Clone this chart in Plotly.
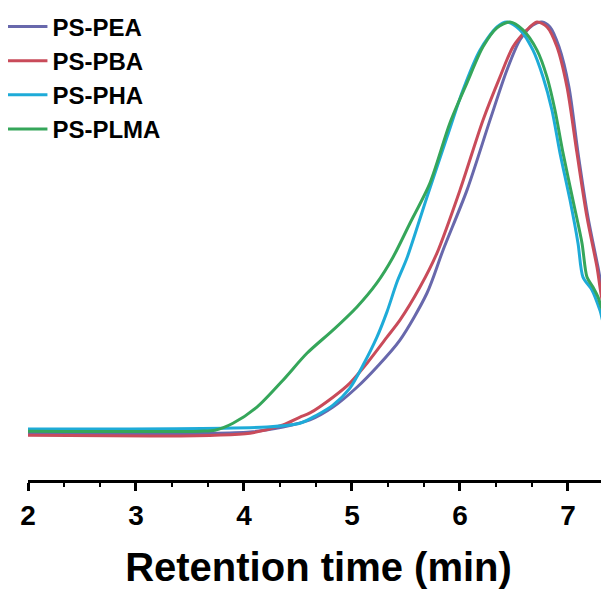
import plotly.graph_objects as go

# Retention time (min) and normalized detector response
t_pea = [2.0, 4.056, 4.361, 4.611, 4.824, 5.046, 5.231, 5.444, 5.694, 5.843, 6.065, 6.278,
         6.435, 6.556, 6.676, 6.759, 6.833, 6.917, 7.009, 7.093, 7.185, 7.278, 7.343, 7.370]
v_pea = [0.007, 0.010, 0.022, 0.039, 0.070, 0.118, 0.167, 0.232, 0.345, 0.449, 0.594, 0.763,
         0.884, 0.957, 0.993, 1.000, 0.988, 0.940, 0.843, 0.684, 0.529, 0.408, 0.321, 0.309]

t_pba = [2.0, 3.130, 3.731, 4.056, 4.361, 4.519, 4.611, 4.824, 4.981, 5.139, 5.324, 5.444,
         5.630, 5.787, 6.000, 6.213, 6.370, 6.491, 6.620, 6.713, 6.806, 6.898, 6.991, 7.083,
         7.176, 7.269, 7.324, 7.361]
v_pba = [0.002, 0.000, 0.002, 0.007, 0.027, 0.046, 0.056, 0.094, 0.128, 0.176, 0.239, 0.280,
         0.360, 0.442, 0.594, 0.763, 0.867, 0.940, 0.981, 1.000, 0.988, 0.940, 0.843, 0.684,
         0.529, 0.408, 0.321, 0.304]

t_pha = [2.0, 4.213, 4.519, 4.676, 4.824, 4.981, 5.102, 5.231, 5.324, 5.417, 5.509, 5.694,
         5.880, 6.028, 6.185, 6.343, 6.435, 6.556, 6.676, 6.769, 6.852, 6.926, 7.019, 7.093,
         7.139, 7.222, 7.296, 7.343, 7.370]
v_pha = [0.017, 0.022, 0.031, 0.051, 0.075, 0.116, 0.171, 0.239, 0.300, 0.372, 0.430, 0.577,
         0.722, 0.836, 0.932, 0.988, 1.000, 0.981, 0.932, 0.867, 0.787, 0.684, 0.570, 0.466,
         0.384, 0.353, 0.304, 0.263, 0.263]

t_plma = [2.0, 3.593, 3.731, 3.898, 4.120, 4.361, 4.583, 4.824, 5.046, 5.231, 5.380, 5.537,
          5.722, 5.907, 6.065, 6.213, 6.343, 6.463, 6.583, 6.713, 6.806, 6.880, 6.954, 7.046,
          7.130, 7.176, 7.231, 7.278, 7.324, 7.361]
v_plma = [0.012, 0.012, 0.014, 0.031, 0.070, 0.135, 0.200, 0.256, 0.312, 0.370, 0.432, 0.514,
          0.611, 0.756, 0.853, 0.940, 0.986, 1.000, 0.981, 0.932, 0.867, 0.787, 0.684, 0.570,
          0.466, 0.384, 0.360, 0.336, 0.304, 0.304]

names = ["PS-PEA", "PS-PBA", "PS-PHA", "PS-PLMA"]
colors = ["#6868AC", "#C94B5A", "#1EABD8", "#35A65A"]
series = [(t_pea, v_pea), (t_pba, v_pba), (t_pha, v_pha), (t_plma, v_plma)]

fig = go.Figure()
for (t, v), name, col in zip(series, names, colors):
    fig.add_trace(go.Scatter(
        x=t, y=v, mode="lines", name="<b>" + name + "</b>",
        line=dict(color=col, width=3, shape="spline", smoothing=0.8),
    ))

fig.update_layout(
    width=601, height=581,
    margin=dict(l=20, r=0, t=2, b=109, autoexpand=False),
    paper_bgcolor="white", plot_bgcolor="white",
    font=dict(family="Liberation Sans, Arial, sans-serif", color="black"),
    showlegend=True,
    legend=dict(
        x=-0.044, y=1.012, xref="paper", yref="paper",
        xanchor="left", yanchor="top",
        bgcolor="rgba(0,0,0,0)", borderwidth=0,
        font=dict(size=24, color="black"),
        itemwidth=40, tracegroupgap=0,
    ),
    xaxis=dict(
        range=[2, 7.38], showgrid=False, zeroline=False,
        showline=True, linecolor="black", linewidth=3,
        ticks="outside", ticklen=8, tickwidth=3, tickcolor="black",
        tickmode="linear", tick0=2, dtick=1,
        tickfont=dict(size=28, color="black", weight="bold"),
        minor=dict(ticks="outside", ticklen=4, tickwidth=2, tickcolor="black",
                   tick0=2, dtick=1/3),
        title=dict(text="<b>Retention time (min)</b>",
                   font=dict(size=40, color="black"), standoff=25),
    ),
    yaxis=dict(range=[-0.106, 1.029], visible=False),
)

fig.write_html("out.html")
